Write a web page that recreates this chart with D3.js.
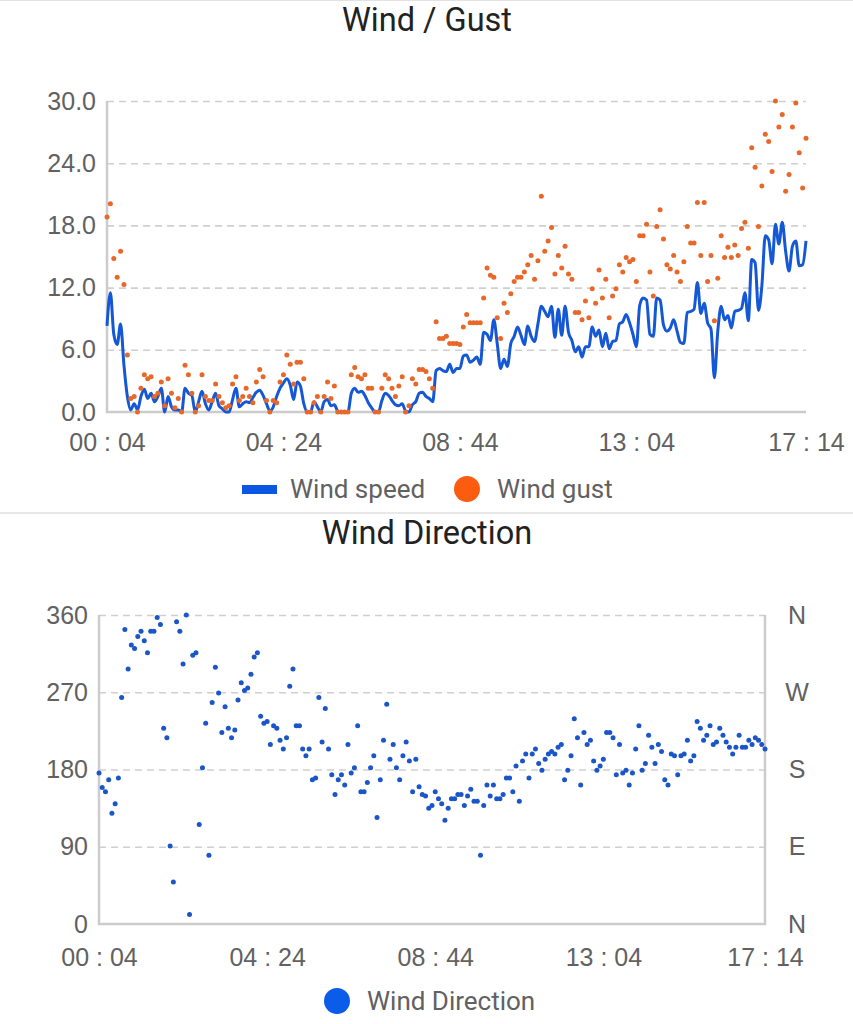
<!DOCTYPE html>
<html>
<head>
<meta charset="utf-8">
<script src="https://cdn.jsdelivr.net/npm/d3@7"></script>
<style>
	body { margin: 0; background: #fff; }
	svg { display: block; font-family: Roboto, 'Noto Sans', sans-serif; }
</style>
</head>
<body>
<div id="chart"></div>
<script>

// ----------------------------------
// DATA (one reading every 5 minutes)
// ----------------------------------

const startTime = '00:04';
const stepMinutes = 5;

const windSpeed = [
	8.3, 11.5, 7.5, 6.5, 8.5, 4.5, 1.5, 0.2, 0.8, 0.2, 1.5, 2.2, 1.3, 1.8, 1.0, 1.5, 2.3, 0.0, 1.5, 0.5,
	0.2, 0.2, 0.0, 2.3, 1.8, 1.6, 0.0, 1.0, 2.0, 0.8, 0.2, 1.0, 1.8, 0.6, 0.3, 0.0, 0.0, 1.2, 2.3, 0.5,
	0.8, 1.0, 0.9, 1.4, 1.9, 2.1, 1.6, 0.8, 0.1, 0.5, 1.5, 2.3, 2.8, 3.2, 2.6, 1.2, 2.9, 2.5, 0.8, 0.0,
	0.0, 1.0, 0.5, 0.0, 1.0, 1.2, 0.6, 0.7, 0.1, 0.0, 0.0, 0.0, 1.8, 2.3, 1.9, 2.0, 1.6, 0.9, 0.4, 0.0,
	0.0, 1.1, 1.8, 1.6, 1.1, 0.7, 0.6, 0.8, 0.1, 0.0, 0.7, 1.0, 1.8, 1.9, 1.5, 1.3, 1.0, 4.0, 4.2, 4.0,
	3.9, 4.6, 3.8, 4.2, 4.2, 5.4, 5.5, 4.8, 5.0, 5.3, 4.6, 7.7, 7.5, 6.9, 8.9, 6.6, 4.2, 5.1, 4.4, 6.6,
	7.3, 8.2, 7.4, 6.5, 8.3, 7.3, 6.8, 8.5, 10.2, 9.7, 9.2, 10.2, 7.2, 9.9, 7.4, 10.2, 7.7, 6.9, 5.8, 6.3,
	5.3, 6.3, 6.3, 8.2, 7.3, 7.9, 6.3, 7.6, 6.1, 6.8, 6.9, 8.5, 8.7, 9.4, 8.6, 7.5, 6.3, 10.3, 11.0, 10.8,
	7.5, 7.3, 11.0, 10.8, 8.4, 7.8, 8.1, 8.9, 7.8, 6.7, 6.6, 9.6, 9.7, 9.9, 12.5, 9.5, 10.5, 8.6, 8.0, 3.3,
	7.8, 10.2, 8.9, 9.3, 8.1, 9.7, 9.8, 10.0, 11.5, 8.8, 14.7, 14.4, 9.8, 12.2, 17.0, 16.6, 14.3, 18.1, 16.2, 18.3,
	15.5, 13.6, 16.0, 16.5, 14.1, 14.2, 16.5
];

const windGust = [
	18.8, 20.1, 14.8, 13.0, 15.5, 12.3, 5.5, 1.3, 1.5, 0.0, 2.3, 3.6, 3.2, 3.4, 1.5, 1.8, 2.9, 0.6, 3.2, 1.8,
	0.4, 1.3, 0.0, 4.5, 3.6, 1.8, 0.0, 0.6, 3.6, 1.5, 1.1, 1.1, 2.7, 1.5, 0.9, 0.4, 0.6, 2.7, 3.4, 1.1,
	1.5, 2.3, 1.5, 0.9, 2.9, 4.1, 3.4, 1.1, 0.0, 1.1, 0.9, 2.9, 3.6, 5.5, 4.6, 2.7, 4.8, 4.8, 3.2, 0.0,
	0.0, 0.9, 1.5, 0.0, 1.5, 2.9, 1.3, 2.5, 0.0, 0.0, 0.0, 0.0, 3.6, 4.3, 3.4, 3.2, 3.6, 2.3, 2.3, 0.0,
	0.0, 2.3, 3.6, 3.2, 2.3, 1.5, 2.5, 3.4, 0.0, 0.6, 3.2, 2.7, 4.1, 4.1, 3.9, 3.2, 2.3, 8.7, 7.1, 7.1,
	7.3, 6.6, 6.6, 6.6, 6.5, 8.2, 9.4, 8.6, 8.6, 8.6, 8.6, 11.0, 13.9, 13.2, 13.0, 9.1, 7.1, 10.5, 9.6, 11.4,
	12.6, 13.0, 13.0, 13.5, 14.2, 15.1, 12.8, 14.6, 20.8, 15.5, 16.5, 17.8, 13.3, 15.1, 13.9, 16.0, 13.3, 12.8, 9.6, 9.6,
	8.9, 10.7, 9.1, 11.9, 10.5, 13.7, 11.0, 12.8, 9.1, 11.2, 11.9, 14.2, 13.5, 14.9, 14.5, 14.7, 12.6, 17.0, 17.0, 18.1,
	13.5, 11.2, 17.9, 19.5, 16.7, 14.2, 13.8, 15.1, 13.5, 12.6, 14.5, 17.9, 16.3, 16.3, 20.2, 15.1, 20.2, 12.6, 15.1, 8.8,
	12.9, 17.0, 14.9, 15.9, 14.9, 16.1, 15.1, 17.7, 18.3, 15.8, 25.5, 23.6, 17.9, 21.8, 26.8, 26.1, 23.2, 30.0, 27.5, 28.7,
	21.3, 22.9, 27.5, 29.8, 25.0, 21.6, 26.4
];

const windDirection = [
	176, 159, 154, 168, 129, 140, 170, 264, 343, 297, 325, 321, 335, 341, 330, 316, 341, 341, 357, 349,
	228, 217, 91, 49, 352, 341, 303, 360, 11, 313, 316, 116, 182, 234, 80, 258, 299, 269, 223, 253,
	228, 217, 226, 261, 281, 272, 275, 291, 311, 316, 242, 234, 236, 209, 231, 228, 214, 204, 217, 277,
	297, 231, 231, 204, 196, 204, 168, 170, 264, 212, 251, 204, 174, 151, 168, 174, 162, 209, 176, 182,
	231, 154, 154, 165, 182, 196, 124, 168, 214, 256, 192, 209, 182, 168, 196, 212, 190, 154, 192, 160,
	151, 149, 135, 138, 154, 146, 140, 121, 135, 146, 146, 151, 151, 138, 149, 157, 143, 143, 80, 138,
	162, 149, 162, 146, 146, 151, 170, 170, 154, 184, 143, 190, 198, 170, 198, 204, 187, 179, 192, 198,
	201, 198, 206, 209, 168, 179, 196, 239, 217, 162, 223, 209, 214, 190, 179, 184, 192, 223, 223, 217,
	174, 209, 176, 179, 162, 176, 204, 231, 179, 187, 220, 206, 187, 209, 201, 168, 162, 198, 196, 174,
	196, 198, 214, 190, 196, 236, 228, 214, 220, 231, 209, 212, 228, 220, 212, 206, 198, 206, 220, 206,
	206, 214, 209, 217, 214, 209, 204
];

const xTickLabels = ['00:04', '04:24', '08:44', '13:04', '17:14'];
const speedTicks = [0, 6, 12, 18, 24, 30];
const directionTicks = [0, 90, 180, 270, 360];
const compassLabels = ['N', 'E', 'S', 'W', 'N'];

// ----------------------------------
// SETUP
// ----------------------------------

const width = 853,
	height = 1024;

const parseTime = d3.timeParse('%H:%M'),
	formatTick = d3.timeFormat('%H : %M'),
	t0 = parseTime(startTime),
	times = windSpeed.map((d, i) => d3.timeMinute.offset(t0, i * stepMinutes)),
	tickDates = xTickLabels.map(parseTime);

const svg = d3.select('#chart')
	.append('svg')
	.attr('width', width)
	.attr('height', height);

const gridColor = '#cfcfcf',
	axisColor = '#cccccc',
	labelColor = '#616161',
	titleColor = '#222',
	blue = '#1558d6',
	orange = '#e8682a';

svg.append('line')
	.attr('x1', 0).attr('x2', width)
	.attr('y1', 0.5).attr('y2', 0.5)
	.attr('stroke', '#e2e2e2');

svg.append('line')
	.attr('x1', 0).attr('x2', width)
	.attr('y1', 513).attr('y2', 513)
	.attr('stroke', '#e8e8e8')
	.attr('stroke-width', 2);

function styleGrid(g, zeroIsAxis){
	g.select('.domain').remove();
	g.selectAll('.tick line')
		.attr('stroke', gridColor)
		.attr('stroke-width', 1.6)
		.attr('stroke-dasharray', '7,5')
		.style('display', d => (zeroIsAxis && d === 0) ? 'none' : null);
	g.selectAll('.tick text')
		.attr('fill', labelColor)
		.style('font-size', '25px');
}

// ----------------------------------
// WIND / GUST
// ----------------------------------

const gustBox = { left: 107, right: 806, top: 101, bottom: 412 };

const xTop = d3.scaleTime()
	.domain([times[0], times[times.length - 1]])
	.range([gustBox.left, gustBox.right]);

const ySpeed = d3.scaleLinear()
	.domain([0, 30])
	.range([gustBox.bottom, gustBox.top]);

svg.append('text')
	.text('Wind / Gust')
	.attr('x', 427)
	.attr('y', 31)
	.attr('text-anchor', 'middle')
	.attr('fill', titleColor)
	.style('font-size', '32.5px');

svg.append('g')
	.attr('transform', `translate(${gustBox.left},0)`)
	.call(d3.axisLeft(ySpeed)
		.tickValues(speedTicks)
		.tickFormat(d3.format('.1f'))
		.tickSize(-(gustBox.right - gustBox.left))
		.tickPadding(11))
	.call(g => styleGrid(g, true));

// solid axes, left and bottom
svg.append('path')
	.attr('d', `M${gustBox.left},${gustBox.top}V${gustBox.bottom}H${gustBox.right}`)
	.attr('fill', 'none')
	.attr('stroke', axisColor)
	.attr('stroke-width', 2.5);

svg.append('g')
	.attr('transform', `translate(0,${gustBox.bottom})`)
	.call(d3.axisBottom(xTop)
		.tickValues(tickDates)
		.tickFormat(formatTick)
		.tickSize(0)
		.tickPadding(21))
	.call(g => {
		g.select('.domain').remove();
		g.selectAll('.tick text').attr('fill', labelColor).style('font-size', '25px');
	});

const speedLine = d3.line()
	.x((d, i) => xTop(times[i]))
	.y(d => ySpeed(d))
	.curve(d3.curveMonotoneX);

svg.append('path')
	.datum(windSpeed)
	.attr('d', speedLine)
	.attr('fill', 'none')
	.attr('stroke', blue)
	.attr('stroke-width', 3)
	.attr('stroke-linejoin', 'round');

svg.append('g')
	.selectAll('circle')
	.data(windGust)
	.join('circle')
	.attr('cx', (d, i) => xTop(times[i]))
	.attr('cy', d => ySpeed(d))
	.attr('r', 2.5)
	.attr('fill', orange);

// legend
const legendTop = svg.append('g')
	.style('font-size', '26px')
	.attr('fill', labelColor);

legendTop.append('rect')
	.attr('x', 242).attr('y', 485)
	.attr('width', 35).attr('height', 9)
	.attr('fill', '#0b57e3');

legendTop.append('text')
	.text('Wind speed')
	.attr('x', 290).attr('y', 489)
	.attr('dy', '0.35em');

legendTop.append('circle')
	.attr('cx', 467).attr('cy', 489)
	.attr('r', 13)
	.attr('fill', '#fb5c10');

legendTop.append('text')
	.text('Wind gust')
	.attr('x', 497).attr('y', 489)
	.attr('dy', '0.35em');

// ----------------------------------
// WIND DIRECTION
// ----------------------------------

const dirBox = { left: 99, right: 765, top: 615, bottom: 924 };

const xBot = d3.scaleTime()
	.domain([times[0], times[times.length - 1]])
	.range([dirBox.left, dirBox.right]);

const yDir = d3.scaleLinear()
	.domain([0, 360])
	.range([dirBox.bottom, dirBox.top]);

svg.append('text')
	.text('Wind Direction')
	.attr('x', 427)
	.attr('y', 544)
	.attr('text-anchor', 'middle')
	.attr('fill', titleColor)
	.style('font-size', '32.5px');

svg.append('g')
	.attr('transform', `translate(${dirBox.left},0)`)
	.call(d3.axisLeft(yDir)
		.tickValues(directionTicks)
		.tickFormat(d3.format('d'))
		.tickSize(-(dirBox.right - dirBox.left))
		.tickPadding(11))
	.call(g => styleGrid(g, true));

svg.append('g')
	.attr('transform', `translate(${dirBox.right},0)`)
	.call(d3.axisRight(yDir)
		.tickValues(directionTicks)
		.tickFormat((d, i) => compassLabels[i])
		.tickSize(0)
		.tickPadding(32))
	.call(g => {
		g.select('.domain').remove();
		g.selectAll('.tick text')
			.attr('text-anchor', 'middle')
			.attr('fill', labelColor)
			.style('font-size', '25px');
	});

svg.append('path')
	.attr('d', `M${dirBox.left},${dirBox.top}V${dirBox.bottom}H${dirBox.right}V${dirBox.top}`)
	.attr('fill', 'none')
	.attr('stroke', axisColor)
	.attr('stroke-width', 2.5);

svg.append('g')
	.attr('transform', `translate(0,${dirBox.bottom})`)
	.call(d3.axisBottom(xBot)
		.tickValues(tickDates)
		.tickFormat(formatTick)
		.tickSize(0)
		.tickPadding(24))
	.call(g => {
		g.select('.domain').remove();
		g.selectAll('.tick text').attr('fill', labelColor).style('font-size', '25px');
	});

svg.append('g')
	.selectAll('circle')
	.data(windDirection)
	.join('circle')
	.attr('cx', (d, i) => xBot(times[i]))
	.attr('cy', d => yDir(d))
	.attr('r', 2.5)
	.attr('fill', '#1a56c8');

const legendBot = svg.append('g')
	.style('font-size', '26px')
	.attr('fill', labelColor);

legendBot.append('circle')
	.attr('cx', 337).attr('cy', 1001)
	.attr('r', 13)
	.attr('fill', '#0b5ce8');

legendBot.append('text')
	.text('Wind Direction')
	.attr('x', 367).attr('y', 1001)
	.attr('dy', '0.35em');

</script>
</body>
</html>
